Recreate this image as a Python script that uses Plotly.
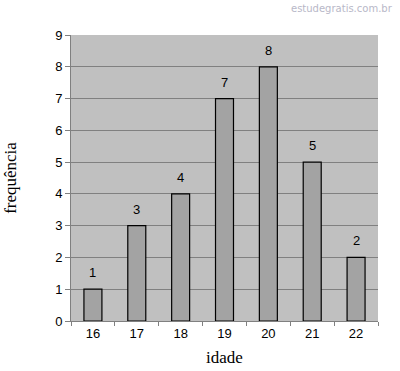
import plotly.graph_objects as go

idade = ["16", "17", "18", "19", "20", "21", "22"]
frequencia = [1, 3, 4, 7, 8, 5, 2]
y_ticks = list(range(0, 10))

fig = go.Figure()
fig.add_trace(go.Bar(
    x=idade, y=frequencia,
    marker=dict(color="#a3a3a3", line=dict(color="black", width=1.2)),
))
annots = [dict(
    x=i, y=v, xref="x", yref="y", text=str(v), showarrow=False,
    yanchor="bottom", yshift=7,
    font=dict(family="Arial, Liberation Sans", size=13, color="black"),
) for i, v in enumerate(frequencia)]
annots.append(dict(
    text="estudegratis.com.br", xref="paper", yref="paper", x=1.055, y=1.094,
    xanchor="right", yanchor="middle", showarrow=False,
    font=dict(family="DejaVu Sans", size=10, color="#b8b8c8"),
))
fig.update_layout(
    width=400, height=371,
    paper_bgcolor="white", plot_bgcolor="#c0c0c0",
    margin=dict(l=71, r=22, t=35, b=50),
    bargap=0.59, showlegend=False,
    xaxis=dict(
        type="category",
        title=dict(text="idade", font=dict(family="Liberation Serif, Times New Roman", size=17, color="black"), standoff=11),
        tickfont=dict(family="Arial, Liberation Sans", size=13, color="black"),
        showline=True, linecolor="#808080", linewidth=1,
        ticks="outside", tickson="boundaries", ticklen=4, tickcolor="#808080",
        showgrid=False, automargin=False,
    ),
    yaxis=dict(
        title=dict(text="frequência", font=dict(family="Liberation Serif, Times New Roman", size=17, color="black"), standoff=34),
        tickfont=dict(family="Arial, Liberation Sans", size=13, color="black"),
        range=[0, 9], tickvals=y_ticks, ticks="outside", ticklen=5, tickcolor="#808080",
        showline=True, linecolor="#808080", linewidth=1,
        showgrid=True, gridcolor="#808080", gridwidth=1, zeroline=False,
        automargin=False,
    ),
    annotations=annots,
)
fig.write_html("out.html", config={"displayModeBar": False},
               post_script="document.body.style.margin='0px';")
